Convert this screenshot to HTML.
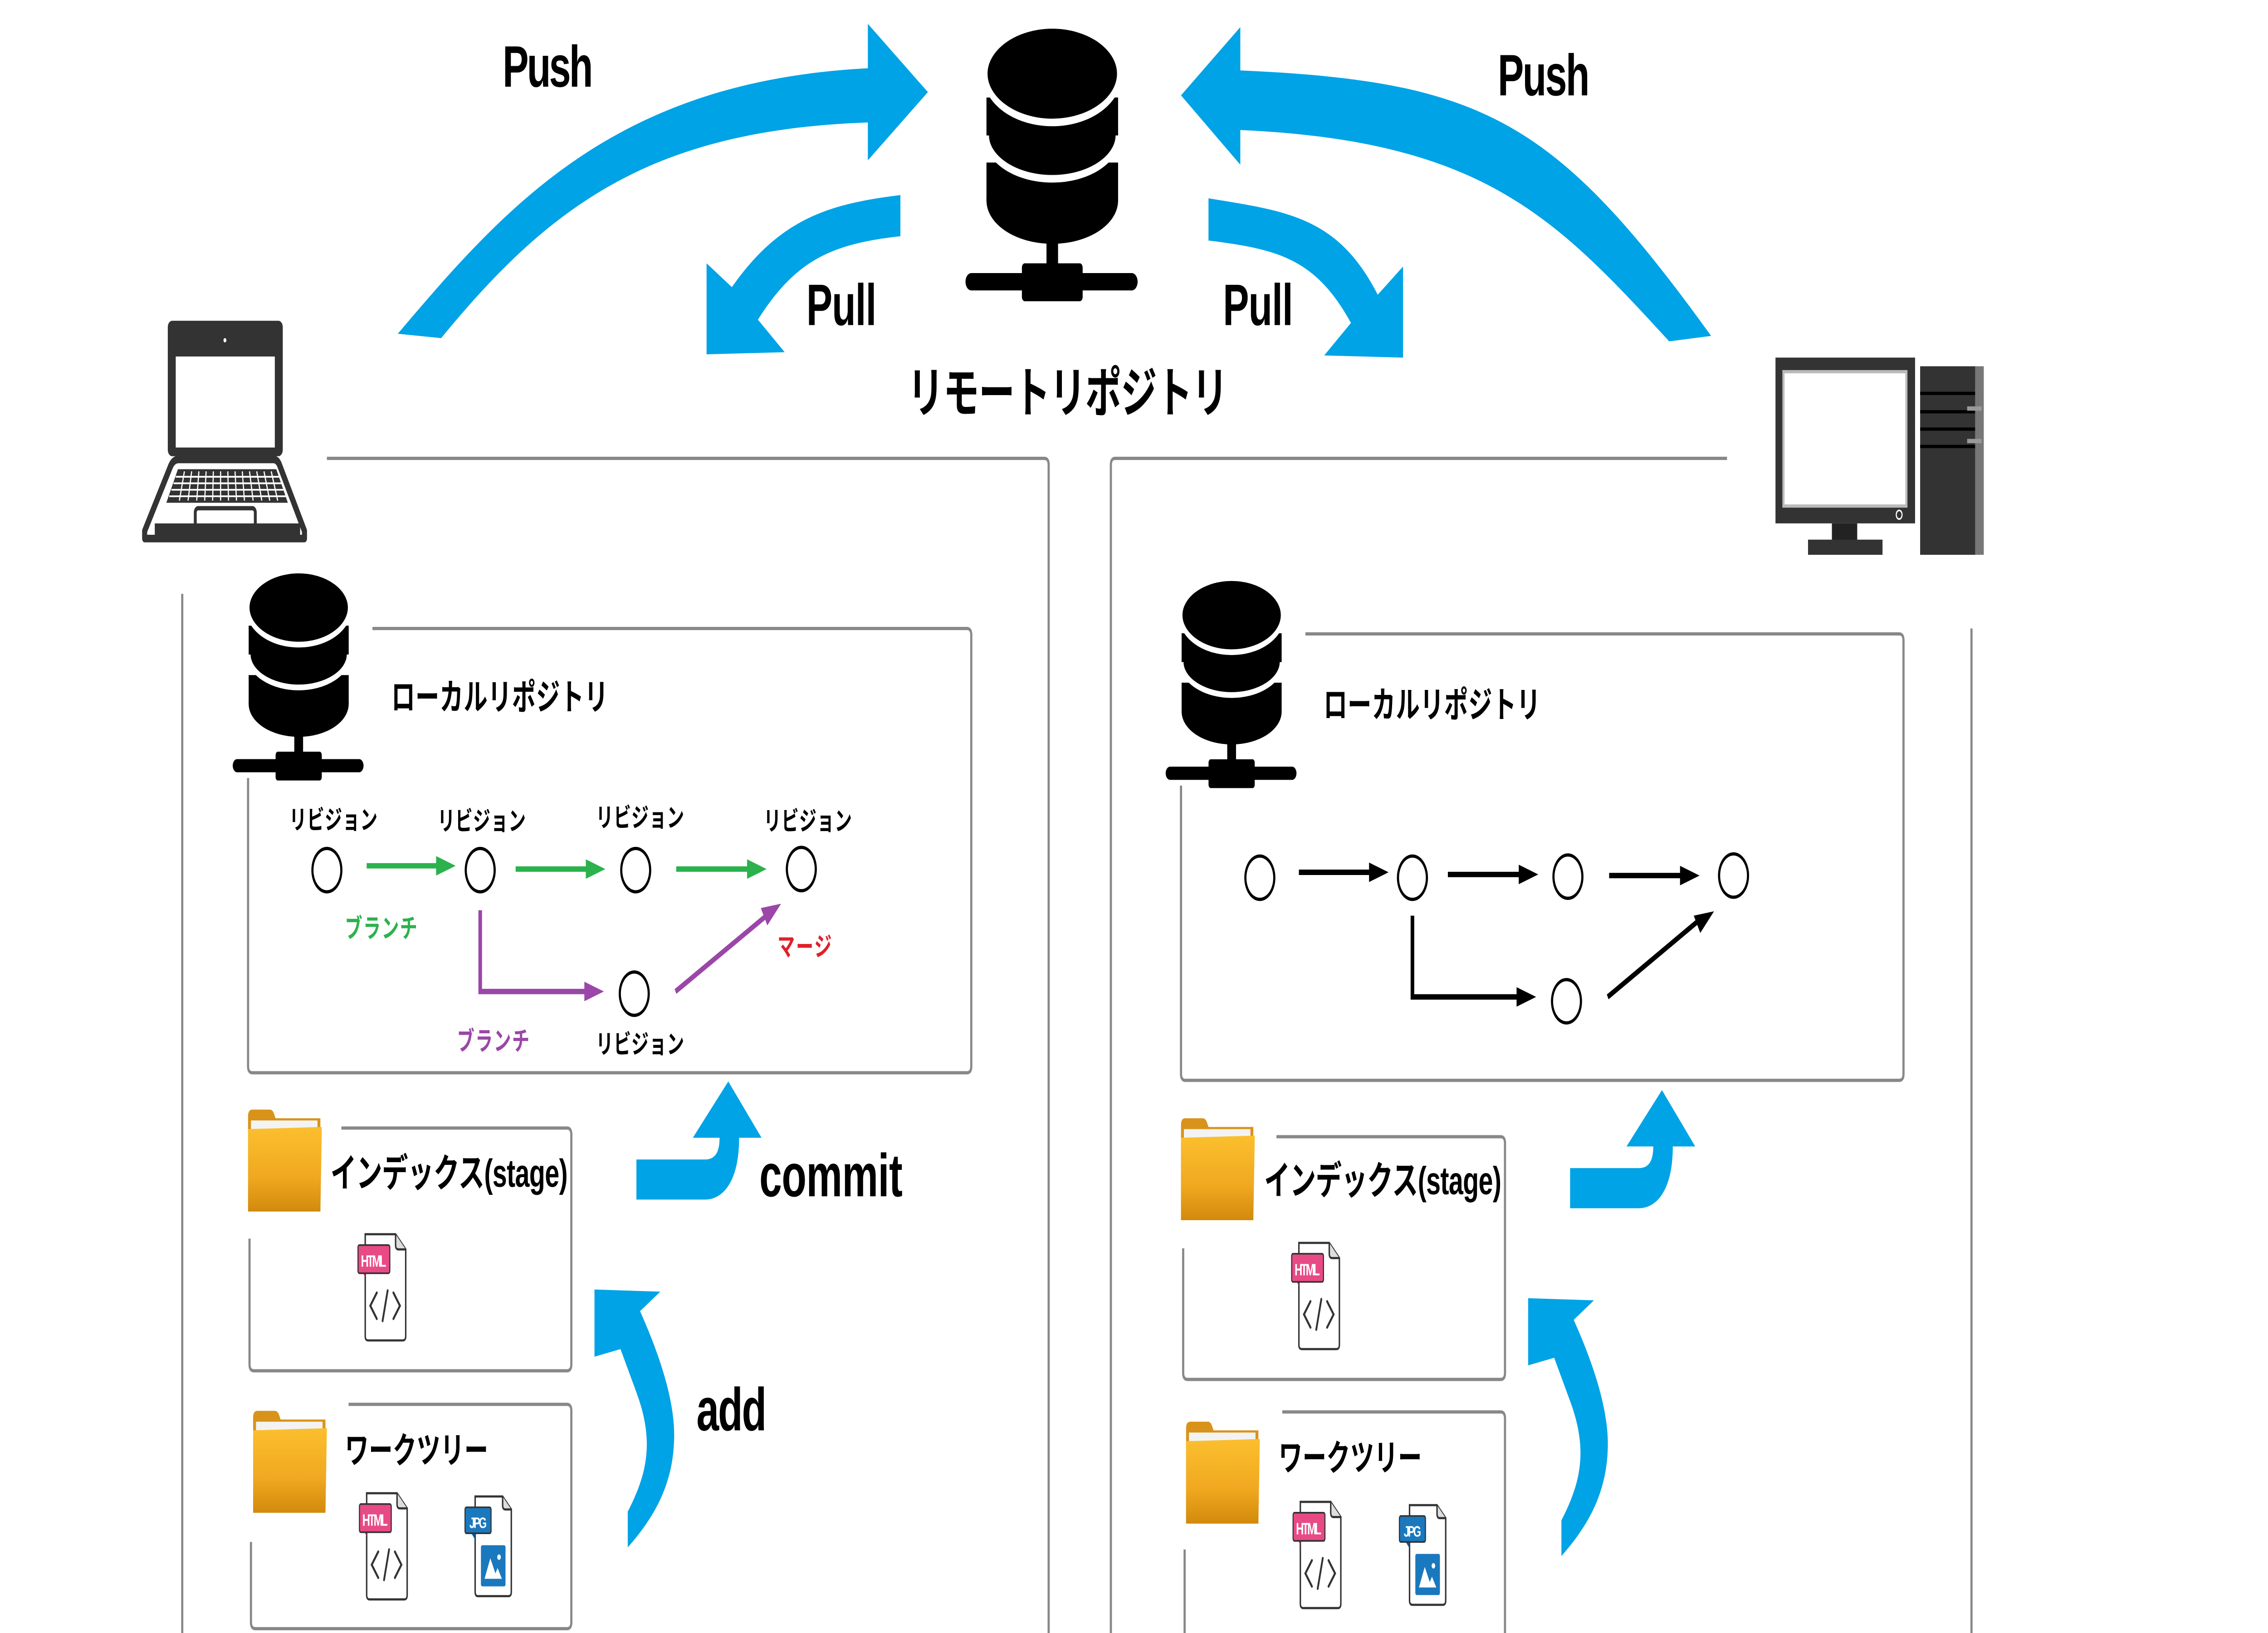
<!DOCTYPE html>
<html><head><meta charset="utf-8"><style>html,body{margin:0;padding:0;background:#fff;width:100vw;height:100vh;overflow:hidden}svg{display:block;width:100vw;height:100vh}
text{font-family:"Liberation Sans","Noto Sans CJK JP",sans-serif;font-weight:bold}</style></head>
<body>
<svg viewBox="0 0 3136 1507" preserveAspectRatio="none" xmlns="http://www.w3.org/2000/svg">
<defs>
<linearGradient id="fg" x1="0" y1="0" x2="0" y2="1"><stop offset="0" stop-color="#fbbf2e"/><stop offset="0.6" stop-color="#f0a820"/><stop offset="1" stop-color="#d18a0c"/></linearGradient>
<g id="srv">
<ellipse cx="1455" cy="185" rx="91" ry="40" fill="#000"/>
<rect x="1364" y="150" width="182" height="35" fill="#000"/>
<ellipse cx="1455" cy="125" rx="91" ry="40" fill="#000" stroke="#fff" stroke-width="7"/>
<rect x="1364" y="90" width="182" height="35" fill="#000"/>
<ellipse cx="1455" cy="68" rx="93" ry="45" fill="#000" stroke="#fff" stroke-width="7"/>
<rect x="1447" y="222" width="16" height="28" fill="#000"/>
<rect x="1335" y="252" width="238" height="16" rx="8" fill="#000"/>
<rect x="1413" y="243" width="84" height="35" rx="4" fill="#000"/>
</g>
<g id="folder">
<path d="M0,8 Q0,2 6,2 L30,2 Q34,2 36,6 L38,10 L100,10 L100,96 L0,96 Z" fill="#d9931a"/>
<rect x="4" y="12" width="92" height="8" fill="#f3f3f3"/>
<path d="M0,20 L102,18 L100,96 L0,96 Z" fill="url(#fg)"/>
</g>
<g id="ca">
<path d="M880,1070 L975,1070 C990,1070 995,1062 995,1050 L958,1050 L1007,998 L1053,1050 L1022,1050 C1022,1090 1000,1107 975,1107 L880,1107 Z" fill="#00a3e6"/>
<path d="M868,1428 L868,1395 C895,1360 905,1330 880,1285 L858,1245 L822,1252 L822,1190 L913,1192 L885,1210 C905,1240 935,1290 932,1330 C930,1370 905,1400 868,1428 Z" fill="#00a3e6"/>
</g>
</defs>
<path d="M550,308 C700,190 850,75 1200,63 L1200,22 L1283,85 L1200,148 L1200,113 C900,120 760,190 610,312 Z" fill="#00a3e6"/>
<path d="M1245,180 C1150,188 1080,200 1012,265 L977,243 L977,327 L1085,325 L1048,295 C1100,240 1150,225 1245,218 Z" fill="#00a3e6"/>
<path d="M1715,65 C2050,75 2150,110 2366,310 L2308,315 C2150,200 2050,130 1715,120 L1715,152 L1633,88 L1715,25 Z" fill="#00a3e6"/>
<path d="M1671,183 C1780,195 1850,200 1905,272 L1940,246 L1940,330 L1831,328 L1868,298 C1820,240 1770,230 1671,222 Z" fill="#00a3e6"/>

<text x="695" y="80" font-size="54" textLength="125">Push</text>
<text x="2071" y="88" font-size="54" textLength="127">Push</text>
<text x="1115" y="300" font-size="54" textLength="97">Pull</text>
<text x="1691" y="300" font-size="54" textLength="97">Pull</text>

<use href="#srv"/>
<text x="1255" y="380" font-size="50" textLength="443">リモートリポジトリ</text>

<rect x="232" y="296" width="159" height="125" rx="6" fill="#333"/>
<rect x="243" y="329" width="137" height="84" fill="#fff"/>
<circle cx="311" cy="314" r="2" fill="#fff"/>
<path d="M247,424 L378,424 Q384,424 387,430 L421,490 L421,497 L200,497 L200,490 L236,430 Q240,424 247,424 Z" fill="none" stroke="#333" stroke-width="7" stroke-linejoin="round"/>
<path d="M214,490 L415,490" stroke="#333" stroke-width="14"/>
<path d="M246,433 L382,433 L398,464 L230,464 Z" fill="#333"/>
<g stroke="#fff" stroke-width="1.6">
<path d="M243,440 L386,440 M240,446 L389,446 M237,452 L392,452 M234,458 L395,458"/>
<path d="M255,435 L248,462 M265,435 L260,462 M275,435 L272,462 M285,435 L283,462 M295,435 L294,462 M305,435 L305,462 M315,435 L316,462 M325,435 L327,462 M335,435 L338,462 M345,435 L350,462 M355,435 L362,462 M365,435 L373,462 M375,435 L384,462"/>
</g>
<rect x="270" y="469" width="83" height="20" rx="4" fill="none" stroke="#333" stroke-width="4"/>

<g transform="translate(1568,0)">
<rect x="887" y="330" width="193" height="153" fill="#333"/>
<rect x="898" y="343" width="170" height="124" fill="#fff" stroke="#bbb" stroke-width="3"/>
<circle cx="1058" cy="475" r="4" fill="none" stroke="#fff" stroke-width="1.5"/>
<rect x="965" y="483" width="35" height="17" fill="#222"/>
<rect x="932" y="498" width="103" height="14" fill="#333"/>
<rect x="1087" y="338" width="78" height="174" fill="#333"/>
<rect x="1163" y="338" width="12" height="174" fill="#777"/>
<path d="M1087,363 L1163,363 M1087,380 L1163,380 M1087,396 L1163,396 M1087,412 L1163,412" stroke="#000" stroke-width="3"/>
<rect x="1152" y="375" width="20" height="4" fill="#999"/><rect x="1152" y="405" width="20" height="4" fill="#999"/>
</g>

<g fill="none" stroke="#888" stroke-width="3">
<path d="M452,423 L1444,423 Q1450,423 1450,429 L1450,1514 Q1450,1520 1444,1520 L258,1520 Q252,1520 252,1514 L252,548"/>
<path d="M515,580 L1337,580 Q1343,580 1343,586 L1343,984 Q1343,990 1337,990 L349,990 Q343,990 343,984 L343,718"/>
<path d="M472,1041 L784,1041 Q790,1041 790,1047 L790,1259 Q790,1265 784,1265 L351,1265 Q345,1265 345,1259 L345,1143"/>
<path d="M482,1296 L784,1296 Q790,1296 790,1302 L790,1497 Q790,1503 784,1503 L353,1503 Q347,1503 347,1497 L347,1423"/>
<path d="M2388,423 L1542,423 Q1536,423 1536,429 L1536,1516 Q1536,1522 1542,1522 L2720,1522 Q2726,1522 2726,1516 L2726,580"/>
<path d="M1805,585 L2626,585 Q2632,585 2632,591 L2632,991 Q2632,997 2626,997 L1639,997 Q1633,997 1633,991 L1633,725"/>
<path d="M1765,1049 L2075,1049 Q2081,1049 2081,1055 L2081,1267 Q2081,1273 2075,1273 L1642,1273 Q1636,1273 1636,1267 L1636,1152"/>
<path d="M1773,1303 L2075,1303 Q2081,1303 2081,1309 L2081,1506 Q2081,1512 2075,1512 L1644,1512 Q1638,1512 1638,1506 L1638,1430"/>
</g>

<use href="#srv" transform="translate(413,528) scale(0.76) translate(-1455,-25)"/>
<use href="#srv" transform="translate(1703,535) scale(0.76) translate(-1455,-25)"/>
<text x="541" y="655" font-size="33" textLength="300">ローカルリポジトリ</text>
<text x="1830" y="662" font-size="33" textLength="300">ローカルリポジトリ</text>

<g fill="none" stroke="#000" stroke-width="3">
<circle cx="452" cy="803" r="20"/><circle cx="664" cy="803" r="20"/><circle cx="879" cy="803" r="20"/><circle cx="1108" cy="802" r="20"/><circle cx="877" cy="917" r="20"/>
</g>
<path d="M507,799 L605,799 M713,802 L812,802 M935,802 L1035,802" stroke="#2bb24c" stroke-width="5"/>
<g fill="#2bb24c">
<path d="M630,799 L603,790 L603,808 Z"/><path d="M837,802 L810,793 L810,811 Z"/><path d="M1060,802 L1033,793 L1033,811 Z"/>
</g>
<path d="M664,840 L664,915 L810,915 M934,915 L1058,846" stroke="#9b46a8" stroke-width="5" fill="none"/>
<path d="M835,915 L808,906 L808,924 Z" fill="#9b46a8"/>
<path d="M1080,834 L1052,838 L1061,854 Z" fill="#9b46a8"/>
<g font-size="24">
<text x="400" y="765" textLength="122">リビジョン</text>
<text x="605" y="766" textLength="122">リビジョン</text>
<text x="824" y="763" textLength="122">リビジョン</text>
<text x="1056" y="766" textLength="122">リビジョン</text>
<text x="824" y="972" textLength="122">リビジョン</text>
<text x="477" y="865" fill="#2bb24c" textLength="100">ブランチ</text>
<text x="632" y="969" fill="#9b46a8" textLength="100">ブランチ</text>
<text x="1075" y="882" fill="#e0202a" textLength="75">マージ</text>
</g>

<g fill="none" stroke="#000" stroke-width="3">
<circle cx="1742" cy="810" r="20"/><circle cx="1953" cy="810" r="20"/><circle cx="2168" cy="809" r="20"/><circle cx="2397" cy="808" r="20"/><circle cx="2166" cy="924" r="20"/>
</g>
<path d="M1796,805 L1895,805 M2002,807 L2102,807 M2225,808 L2325,808 M1953,845 L1953,920 L2100,920 M2223,920 L2348,850" stroke="#000" stroke-width="5" fill="none"/>
<g fill="#000">
<path d="M1920,805 L1893,796 L1893,814 Z"/><path d="M2127,807 L2100,798 L2100,816 Z"/><path d="M2350,808 L2323,799 L2323,817 Z"/>
<path d="M2124,920 L2097,911 L2097,929 Z"/><path d="M2370,841 L2342,845 L2351,861 Z"/>
</g>

<use href="#folder" transform="translate(343,1022)"/>
<use href="#folder" transform="translate(350,1300)"/>
<use href="#folder" transform="translate(1633,1030)"/>
<use href="#folder" transform="translate(1640,1310)"/>
<text x="457" y="1095" font-size="36" textLength="328">インデックス(stage)</text>
<text x="477" y="1350" font-size="33" textLength="198">ワークツリー</text>
<text x="1748" y="1102" font-size="36" textLength="328">インデックス(stage)</text>
<text x="1768" y="1357" font-size="33" textLength="198">ワークツリー</text>

<g transform="translate(495,1137)">
<path d="M10,2 L52,2 L66,16 L66,96 Q66,100 62,100 L14,100 Q10,100 10,96 Z" fill="#fff" stroke="#333" stroke-width="2"/>
<path d="M52,2 L52,12 Q52,16 56,16 L66,16" fill="#ddd" stroke="#333" stroke-width="2"/>
<path d="M0,27 L10,42 L10,27 Z" fill="#b02a60"/>
<rect x="0" y="12" width="44" height="26" rx="2" fill="#e84a86" stroke="#333" stroke-width="1.5"/>
<text x="4" y="32" font-size="15" fill="#fff" textLength="35">HTML</text>
<path d="M26,56 L17,68 L26,80 M49,56 L58,68 L49,80 M41,54 L34,82" fill="none" stroke="#333" stroke-width="2.5" stroke-linecap="round"/>
</g>
<g transform="translate(497,1376)">
<path d="M10,2 L52,2 L66,16 L66,96 Q66,100 62,100 L14,100 Q10,100 10,96 Z" fill="#fff" stroke="#333" stroke-width="2"/>
<path d="M52,2 L52,12 Q52,16 56,16 L66,16" fill="#ddd" stroke="#333" stroke-width="2"/>
<path d="M0,27 L10,42 L10,27 Z" fill="#b02a60"/>
<rect x="0" y="12" width="44" height="26" rx="2" fill="#e84a86" stroke="#333" stroke-width="1.5"/>
<text x="4" y="32" font-size="15" fill="#fff" textLength="35">HTML</text>
<path d="M26,56 L17,68 L26,80 M49,56 L58,68 L49,80 M41,54 L34,82" fill="none" stroke="#333" stroke-width="2.5" stroke-linecap="round"/>
</g>
<g transform="translate(1786,1145)">
<path d="M10,2 L52,2 L66,16 L66,96 Q66,100 62,100 L14,100 Q10,100 10,96 Z" fill="#fff" stroke="#333" stroke-width="2"/>
<path d="M52,2 L52,12 Q52,16 56,16 L66,16" fill="#ddd" stroke="#333" stroke-width="2"/>
<path d="M0,27 L10,42 L10,27 Z" fill="#b02a60"/>
<rect x="0" y="12" width="44" height="26" rx="2" fill="#e84a86" stroke="#333" stroke-width="1.5"/>
<text x="4" y="32" font-size="15" fill="#fff" textLength="35">HTML</text>
<path d="M26,56 L17,68 L26,80 M49,56 L58,68 L49,80 M41,54 L34,82" fill="none" stroke="#333" stroke-width="2.5" stroke-linecap="round"/>
</g>
<g transform="translate(1788,1384)">
<path d="M10,2 L52,2 L66,16 L66,96 Q66,100 62,100 L14,100 Q10,100 10,96 Z" fill="#fff" stroke="#333" stroke-width="2"/>
<path d="M52,2 L52,12 Q52,16 56,16 L66,16" fill="#ddd" stroke="#333" stroke-width="2"/>
<path d="M0,27 L10,42 L10,27 Z" fill="#b02a60"/>
<rect x="0" y="12" width="44" height="26" rx="2" fill="#e84a86" stroke="#333" stroke-width="1.5"/>
<text x="4" y="32" font-size="15" fill="#fff" textLength="35">HTML</text>
<path d="M26,56 L17,68 L26,80 M49,56 L58,68 L49,80 M41,54 L34,82" fill="none" stroke="#333" stroke-width="2.5" stroke-linecap="round"/>
</g>
<g transform="translate(643,1379)">
<path d="M14,2 L52,2 L64,14 L64,90 Q64,94 60,94 L18,94 Q14,94 14,90 Z" fill="#fff" stroke="#333" stroke-width="2"/>
<path d="M52,2 L52,10 Q52,14 56,14 L64,14" fill="#ddd" stroke="#333" stroke-width="2"/>
<path d="M0,26 L14,42 L14,26 Z" fill="#0f5a94"/>
<rect x="0" y="12" width="36" height="24" rx="2" fill="#1a78be" stroke="#333" stroke-width="1.5"/>
<text x="6" y="31" font-size="14" fill="#fff" textLength="24">JPG</text>
<rect x="22" y="47" width="34" height="38" rx="2" fill="#1a78be"/>
<path d="M27,78 L35,59 L42,73 L45,68 L51,78 Z" fill="#fff"/><circle cx="47" cy="58" r="2.5" fill="#fff"/>
</g>
<g transform="translate(1935,1387)">
<path d="M14,2 L52,2 L64,14 L64,90 Q64,94 60,94 L18,94 Q14,94 14,90 Z" fill="#fff" stroke="#333" stroke-width="2"/>
<path d="M52,2 L52,10 Q52,14 56,14 L64,14" fill="#ddd" stroke="#333" stroke-width="2"/>
<path d="M0,26 L14,42 L14,26 Z" fill="#0f5a94"/>
<rect x="0" y="12" width="36" height="24" rx="2" fill="#1a78be" stroke="#333" stroke-width="1.5"/>
<text x="6" y="31" font-size="14" fill="#fff" textLength="24">JPG</text>
<rect x="22" y="47" width="34" height="38" rx="2" fill="#1a78be"/>
<path d="M27,78 L35,59 L42,73 L45,68 L51,78 Z" fill="#fff"/><circle cx="47" cy="58" r="2.5" fill="#fff"/>
</g>

<use href="#ca"/>
<use href="#ca" transform="translate(1291,8)"/>
<text x="1050" y="1104" font-size="56" textLength="198">commit</text>
<text x="963" y="1320" font-size="56" textLength="97">add</text>
</svg>
</body></html>
